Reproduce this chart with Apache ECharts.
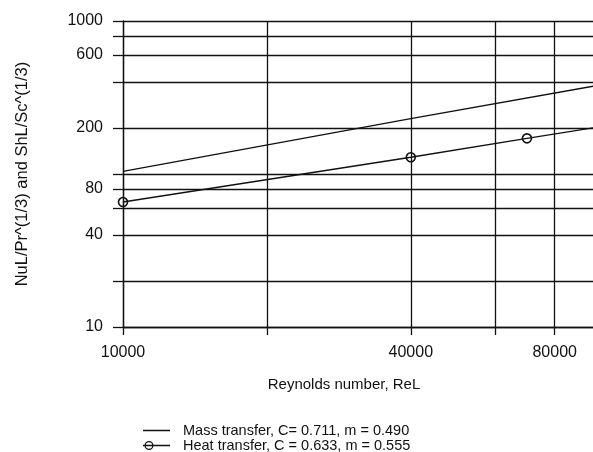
<!DOCTYPE html>
<html><head><meta charset="utf-8">
<script src="https://cdn.jsdelivr.net/npm/echarts@6/dist/echarts.min.js"></script>
<style>html,body{margin:0;padding:0;background:#fff}#c{width:593px;height:452px}</style>
</head><body><div id="c"></div>
<script>
const xGridValues = [10000, 20000, 40000, 60000, 80000, 100000];
const xLabelValues = [10000, 40000, 80000];
const yGridValues = [10, 20, 40, 60, 80, 100, 200, 400, 600, 800, 1000];
const yLabelValues = [10, 40, 80, 200, 600, 1000];
const massRe = [10000, 40000, 100000];
const massVal = [104, 230, 383];
const heatRe = [10000, 40000, 70000, 100000];
const heatVal = [65.6, 128.6, 171, 204];
const heatMarked = [true, true, true, false];
const seriesNames = ['Mass transfer, C= 0.711, m = 0.490', 'Heat transfer, C = 0.633, m = 0.555'];

const FONT = 'Liberation Sans, Arial, sans-serif';
const INK = '#111';
const lineStyle = { color: INK, width: 1.3 };

const massIcon = 'path://M0,0L0,0.01L0.01,0Z M0,3.85H27V5.15H0Z M26.99,9L27,9L27,8.99Z';
const heatIcon = 'path://M0,3.85H27V5.15H0Z M1.5,4.5A4.5,4.5 0 1,1 10.5,4.5A4.5,4.5 0 1,1 1.5,4.5Z M2.8,4.5A3.2,3.2 0 1,0 9.2,4.5A3.2,3.2 0 1,0 2.8,4.5Z M26.99,9L27,9L27,8.99Z M0,0L0,0.01L0.01,0Z';

const chart = echarts.init(document.getElementById('c'), null, { renderer: 'canvas' });
chart.setOption({
  animation: false,
  backgroundColor: '#fff',
  grid: { left: 123, top: 21, width: 478, bottom: 125, containLabel: false, outerBoundsMode: 'none' },
  legend: {
    orient: 'vertical', left: 138, top: 418, height: 60, itemWidth: 27, itemHeight: 9, itemGap: 0,
    symbolKeepAspect: false,
    textStyle: { fontFamily: FONT, fontSize: 14.5, color: INK, lineHeight: 14, padding: [0, 0, 0, 8] },
    data: [
      { name: seriesNames[0], icon: massIcon, itemStyle: { color: INK, borderWidth: 0 } },
      { name: seriesNames[1], icon: heatIcon, itemStyle: { color: INK, borderWidth: 0 } }
    ]
  },
  xAxis: {
    type: 'log', logBase: 10, min: 10000, max: 100000,
    name: 'Reynolds number, ReL', nameLocation: 'middle', nameGap: 50,
    nameTextStyle: { fontFamily: FONT, fontSize: 15, color: INK, padding: [0, 36, 0, 0] },
    axisLine: { show: true, lineStyle: lineStyle },
    axisTick: { show: true, inside: false, length: 8, lineStyle: lineStyle, customValues: xGridValues },
    axisLabel: { fontFamily: FONT, fontSize: 16, color: INK, margin: 18, customValues: xLabelValues,
      formatter: v => String(Math.round(v)) },
    splitLine: { show: true, lineStyle: lineStyle },
    minorTick: { show: false }, minorSplitLine: { show: false }
  },
  yAxis: {
    type: 'log', logBase: 10, min: 10, max: 1000,
    name: 'NuL/Pr^(1/3) and ShL/Sc^(1/3)', nameLocation: 'middle', nameGap: 92, nameRotate: 90,
    nameTextStyle: { fontFamily: FONT, fontSize: 16.5, color: INK },
    axisLine: { show: true, lineStyle: lineStyle },
    axisTick: { show: true, inside: false, length: 10, lineStyle: lineStyle, customValues: yGridValues },
    axisLabel: { fontFamily: FONT, fontSize: 16, color: INK, margin: 20, customValues: yLabelValues,
      formatter: v => String(Math.round(v)) },
    splitLine: { show: true, lineStyle: lineStyle },
    minorTick: { show: false }, minorSplitLine: { show: false }
  },
  series: [
    {
      name: seriesNames[0], type: 'line', symbol: 'none', showSymbol: false,
      lineStyle: { color: INK, width: 1.4 }, itemStyle: { color: INK },
      data: massRe.map((r, i) => [r, massVal[i]])
    },
    {
      name: seriesNames[1], type: 'line', symbol: 'circle', symbolSize: 9,
      lineStyle: { color: INK, width: 1.4 },
      itemStyle: { color: 'rgba(0,0,0,0)', borderColor: INK, borderWidth: 1.6 },
      data: heatRe.map((r, i) => ({ value: [r, heatVal[i]], symbol: heatMarked[i] ? 'circle' : 'none' }))
    }
  ]
});
</script></body></html>
